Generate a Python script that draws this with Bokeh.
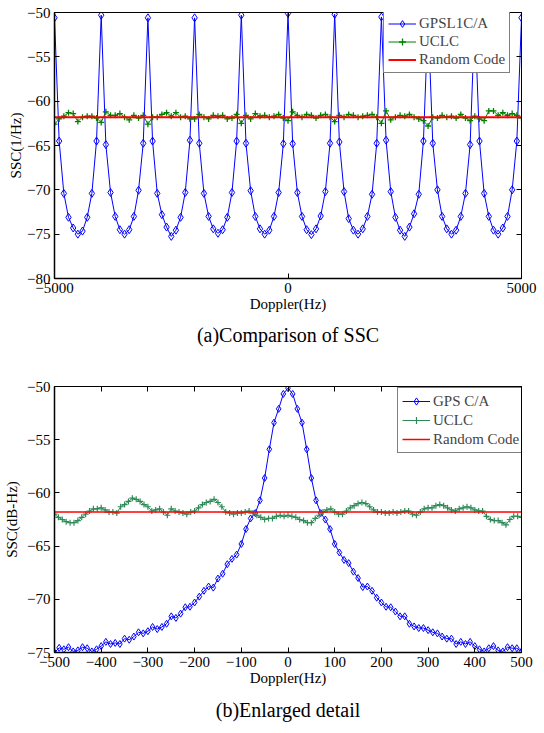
import numpy as np
from bokeh.plotting import figure
from bokeh.models import Range1d, FixedTicker, LinearAxis, Title, Legend, LegendItem
from bokeh.layouts import column
from bokeh.embed import file_html
from bokeh.resources import INLINE

FONT = "Liberation Serif"

# ---------------- (a) Comparison of SSC ----------------
doppler_a_limits = [-5000, 5000]
gps_a = [
    -50.6, -64.5, -70.4, -73.1, -74.3, -75.0, -74.65, -73.1, -70.4, -64.5,
    -50.3, -64.9, -70.3, -73.0, -74.5, -75.0, -74.5, -73.0, -70.05, -64.75,
    -50.6, -64.5, -70.4, -72.8, -74.2, -75.25, -74.55, -73.1, -70.3, -64.4,
    -50.6, -64.75, -70.4, -73.0, -74.4, -74.9, -74.5, -73.1, -70.3, -64.5,
    -50.3, -64.75, -70.1, -73.0, -74.4, -75.0, -74.55, -73.0, -70.3, -64.8,
    -50.1, -64.8, -70.3, -73.0, -74.5, -75.05, -74.4, -72.95, -70.2, -64.75,
    -50.2, -64.6, -70.2, -73.25, -74.55, -75.0, -74.4, -73.0, -70.5, -64.75,
    -50.5, -64.4, -70.2, -73.1, -74.55, -75.25, -74.2, -72.7, -70.5, -64.5,
    -50.6, -64.75, -70.0, -73.0, -74.4, -75.0, -74.55, -73.0, -70.4, -64.9,
    -50.4, -64.5, -70.4, -73.0, -74.55, -75.0, -74.3, -73.0, -70.0, -64.5,
    -50.6,
]
uclc_a = [
    -62.6, -62.0, -61.7, -61.3, -61.4, -62.3, -61.8, -61.7, -61.7, -61.9,
    -62.4, -61.2, -61.6, -61.6, -61.4, -61.8, -62.1, -61.6, -61.9, -61.6,
    -62.6, -61.8, -61.8, -61.5, -61.3, -61.7, -61.3, -61.8, -61.7, -62.0,
    -62.0, -61.5, -61.8, -62.0, -61.6, -61.7, -61.6, -62.0, -61.9, -61.5,
    -62.5, -61.6, -62.0, -61.4, -61.7, -61.6, -61.8, -61.7, -61.5, -61.9,
    -62.2, -61.2, -61.6, -61.8, -61.5, -61.6, -61.9, -61.6, -61.5, -61.8,
    -62.3, -61.6, -61.8, -61.5, -61.6, -61.8, -61.7, -61.6, -61.5, -61.8,
    -62.5, -61.1, -62.1, -61.8, -61.6, -61.7, -61.5, -61.8, -62.0, -62.2,
    -62.8, -61.8, -61.9, -61.6, -61.8, -61.7, -61.9, -61.5, -61.9, -62.2,
    -61.7, -62.0, -62.2, -61.1, -61.1, -61.6, -61.3, -61.6, -61.4, -61.6,
    -61.9,
]
random_level_a = [-61.8, -61.8]
xticks_a = [-5000, 0, 5000]
yticks_a = [-80, -75, -70, -65, -60, -55, -50]

# ---------------- (b) Enlarged detail ----------------
doppler_b_limits = [-500, 500]
gps_b = [
    -75.0, -74.56, -74.7, -74.5, -74.9, -74.8, -74.5, -74.6, -74.9, -74.7,
    -74.4, -74.0, -74.2, -74.1, -74.2, -73.7, -73.8, -73.5, -73.1, -73.2,
    -73.0, -72.6, -72.8, -72.6, -72.3, -71.6, -71.75, -71.35, -70.75, -70.7,
    -70.3, -69.75, -69.2, -68.8, -68.9, -68.05, -67.6, -66.7, -66.2, -65.8,
    -64.8, -63.4, -62.4, -61.9, -60.7, -58.6, -55.9, -53.4, -52.1, -50.7,
    -50.15,
    -50.7, -52.1, -53.4, -55.9, -58.6, -60.7, -61.9, -62.5, -63.4, -64.8,
    -65.6, -66.3, -66.6, -67.4, -68.0, -68.85, -68.8, -69.2, -69.85, -70.3,
    -70.7, -70.75, -71.15, -71.6, -71.6, -72.3, -72.55, -72.7, -72.7, -72.9,
    -73.1, -73.2, -73.5, -73.7, -73.7, -74.2, -74.0, -74.2, -74.0, -74.4,
    -74.7, -74.9, -74.6, -74.4, -74.8, -74.9, -74.5, -74.6, -74.6, -74.9,
]
uclc_b = [
    -62.0, -62.3, -62.5, -62.7, -62.8, -62.8, -62.6, -62.3, -62.0, -61.7,
    -61.5, -61.5, -61.4, -61.6, -61.8, -61.8, -61.9, -61.3, -61.1, -60.8,
    -60.5, -60.6, -60.8, -61.1, -61.3, -61.7, -61.6, -61.5, -61.8, -62.1,
    -61.5, -61.7, -61.8, -61.9, -62.0, -61.8, -61.7, -61.4, -61.1, -60.9,
    -60.8, -60.6, -60.9, -61.3, -61.8, -61.9, -62.0, -61.9, -61.9, -61.8,
    -61.7, -61.9, -62.1, -62.3, -62.5, -62.4, -62.4, -62.2, -62.1, -62.2,
    -62.1, -62.2, -62.3, -62.5, -62.6, -62.8, -62.8, -62.4, -62.1, -61.8,
    -61.6, -61.5, -61.8, -62.0, -62.0, -61.7, -61.4, -61.2, -61.0, -60.9,
    -61.0, -61.3, -61.6, -61.8, -61.8, -61.9, -61.9, -61.8, -61.9, -61.8,
    -61.7, -61.7, -62.0, -62.1, -61.8, -61.5, -61.4, -61.4, -61.2, -61.1,
    -61.2, -61.4, -61.6, -61.7, -61.5, -61.4, -61.3, -61.4, -61.6, -61.7,
    -61.7, -62.2, -62.5, -62.6, -62.6, -62.8, -63.0, -62.5, -62.2, -62.2,
    -62.3,
]
random_level_b = [-61.8, -61.8]
xticks_b = [-500, -400, -300, -200, -100, 0, 100, 200, 300, 400, 500]
yticks_b = [-75, -70, -65, -60, -55, -50]


def style_axes(p, xt, yt, xlabel, ylabel, ylabel_standoff):
    p.xgrid.visible = False
    p.ygrid.visible = False
    p.outline_line_color = "black"
    p.outline_line_width = 1
    xax = p.below[0]
    yax = p.left[0]
    xax.ticker = FixedTicker(ticks=xt)
    yax.ticker = FixedTicker(ticks=yt)
    for ax in (xax, yax):
        ax.major_tick_in = 5
        ax.major_tick_out = 0
        ax.minor_tick_line_color = None
        ax.axis_line_width = 1.5
        ax.axis_line_color = "black"
        ax.major_tick_line_color = "black"
        ax.major_label_text_font = FONT
        ax.major_label_text_font_size = "15px"
        ax.major_label_text_color = "black"
        ax.axis_label_text_font = FONT
        ax.axis_label_text_font_size = "15px"
        ax.axis_label_text_font_style = "normal"
        ax.axis_label_text_color = "black"
    xax.axis_label = xlabel
    yax.axis_label = ylabel
    xax.major_label_standoff = 4
    xax.axis_label_standoff = 0
    yax.major_label_standoff = 4
    yax.axis_label_standoff = ylabel_standoff
    # mirrored ticks on right and top (box on), without labels
    for loc, t in (("right", yt), ("above", xt)):
        ax = LinearAxis(ticker=FixedTicker(ticks=t), major_tick_in=5, major_tick_out=0,
                        minor_tick_line_color=None, major_label_text_font_size="1px",
                        major_label_text_color=None, major_label_standoff=0,
                        axis_line_width=1, axis_line_color="black")
        p.add_layout(ax, loc)


def make_legend(p, items, loc, rowh, pad):
    lg = Legend(items=items, location=loc, label_text_font=FONT, label_text_font_size="15px",
                glyph_width=28, glyph_height=rowh, label_height=rowh, label_standoff=3,
                spacing=1, padding=pad, margin=0, border_line_color="black",
                border_line_width=1.2, background_fill_color="white", background_fill_alpha=1)
    p.add_layout(lg)


# ---------- figure (a) ----------
xa = np.linspace(doppler_a_limits[0], doppler_a_limits[1], len(gps_a))
xua = np.linspace(doppler_a_limits[0], doppler_a_limits[1], len(uclc_a))
p1 = figure(width=544, height=360, output_backend="svg", toolbar_location=None,
            x_range=Range1d(-5000, 5000), y_range=Range1d(-80, -50),
            min_border_left=54, min_border_right=23, min_border_top=12, min_border_bottom=82)
style_axes(p1, xticks_a, yticks_a, "Doppler(Hz)", "SSC(1/Hz)", 0)

g1 = p1.line(xa, gps_a, line_color="#0000FF", line_width=1)
g1m = p1.scatter(xa, gps_a, marker="diamond", size=8, line_color="#0000FF", fill_color=None, line_width=1)
u1 = p1.line(xua, uclc_a, line_color="#008000", line_width=1)
u1m = p1.scatter(xua, uclc_a, marker="cross", size=6, line_color="#008000", line_width=1.3)
r1 = p1.line(doppler_a_limits, random_level_a, line_color="#FF0000", line_width=2)
make_legend(p1, [LegendItem(label="GPSL1C/A", renderers=[g1, g1m]),
                 LegendItem(label="UCLC", renderers=[u1, u1m]),
                 LegendItem(label="Random Code", renderers=[r1])], (329, 205), 17, 4)
p1.add_layout(Title(text="(a)Comparison of SSC", align="center", standoff=14,
                    text_font=FONT, text_font_size="20px", text_font_style="normal",
                    text_color="black"), "below")

# ---------- figure (b) ----------
xb = np.linspace(doppler_b_limits[0], doppler_b_limits[1], len(gps_b))
xub = np.linspace(doppler_b_limits[0], doppler_b_limits[1], len(uclc_b))
p2 = figure(width=544, height=373, output_backend="svg", toolbar_location=None,
            x_range=Range1d(-500, 500), y_range=Range1d(-75, -50),
            min_border_left=49, min_border_right=12, min_border_top=26, min_border_bottom=81)
style_axes(p2, xticks_b, yticks_b, "Doppler(Hz)", "SSC(dB-Hz)", 4)

g2 = p2.line(xb, gps_b, line_color="#0000FF", line_width=1)
g2m = p2.scatter(xb, gps_b, marker="diamond", size=7, line_color="#0000FF", fill_color=None, line_width=1)
u2 = p2.line(xub, uclc_b, line_color="#2E8B57", line_width=1)
u2m = p2.scatter(xub, uclc_b, marker="cross", size=6, line_color="#2E8B57", line_width=1.2)
r2 = p2.line(doppler_b_limits, random_level_b, line_color="#FF0000", line_width=1.5)
make_legend(p2, [LegendItem(label="GPS C/A", renderers=[g2, g2m]),
                 LegendItem(label="UCLC", renderers=[u2, u2m]),
                 LegendItem(label="Random Code", renderers=[r2])], (343, 199), 18, 4)
p2.add_layout(Title(text="(b)Enlarged detail", align="center", standoff=16,
                    text_font=FONT, text_font_size="20px", text_font_style="normal",
                    text_color="black"), "below")

layout = column(p1, p2, spacing=0)
open("out.html", "w").write(file_html(layout, INLINE))
